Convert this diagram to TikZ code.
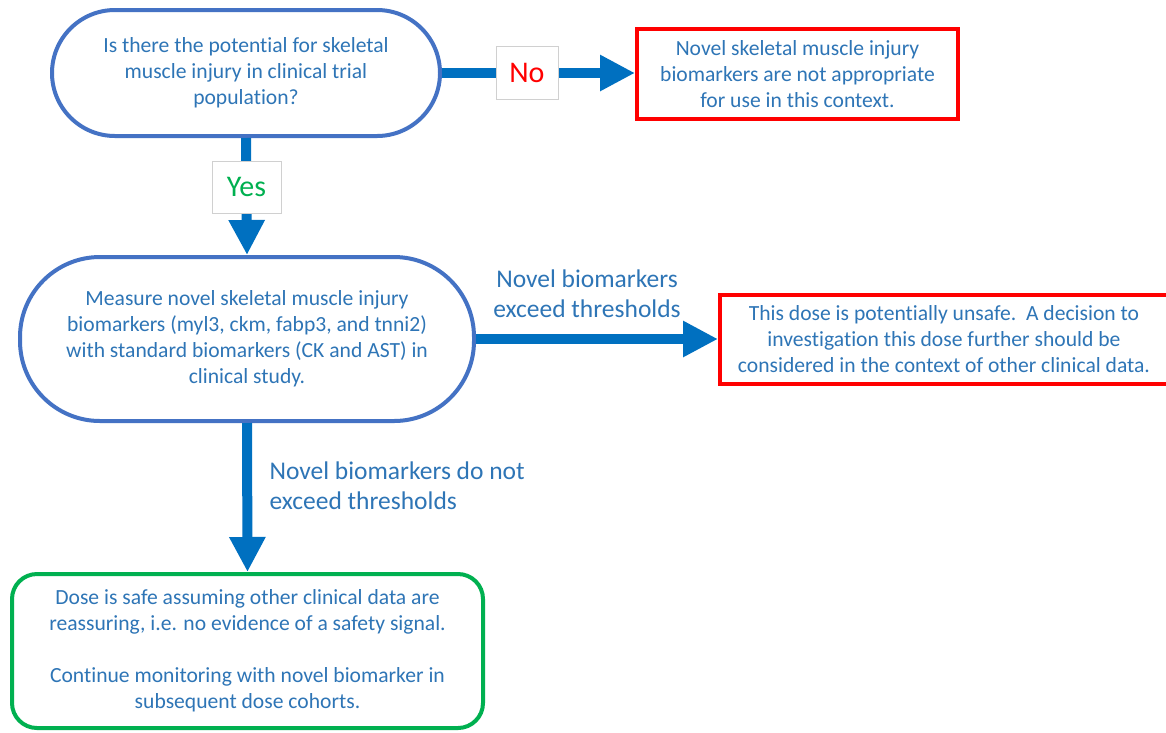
\documentclass[tikz,border=0pt]{standalone}
\usepackage{fontspec}
\setmainfont{Carlito}[Ligatures=NoCommon]
\usetikzlibrary{arrows.meta}
\definecolor{nodeblue}{HTML}{4472C4}
\definecolor{arrowblue}{HTML}{0070C0}
\definecolor{txtblue}{HTML}{2E75B6}
\definecolor{redb}{HTML}{FF0000}
\definecolor{greenb}{HTML}{00B050}
\definecolor{greentxt}{HTML}{00B050}
\definecolor{labgray}{HTML}{D0D0D0}
\begin{document}
\begin{tikzpicture}[x=1pt,y=-1pt,
  txt/.style={text=txtblue, font=\fontsize{21.6}{26}\selectfont, align=center},
  term/.style={txt, draw=nodeblue, line width=4pt, fill=white, rectangle},
  redbox/.style={txt, draw=redb, line width=4pt, rectangle, fill=white},
  greenbox/.style={txt, draw=greenb, line width=4pt, rectangle, fill=white, rounded corners=25pt},
  flow/.style={draw=arrowblue, line width=10pt, -{Triangle[width=34pt,length=35pt]}},
  lab/.style={draw=labgray, line width=0.8pt, fill=white, font=\fontsize{30}{32}\selectfont, inner sep=0pt},
  edgelab/.style={text=txtblue, font=\fontsize{25.5}{30}\selectfont}]
\useasboundingbox (0,0) rectangle (1166,732);
\fill[white] (0,0) rectangle (1166,732);

\node[term, minimum width=388pt, minimum height=126pt, rounded corners=63pt] (q) at (246,73)
  {Is there the potential for skeletal\\muscle injury in clinical trial\\population?};

\node[redbox, minimum width=321pt, minimum height=90pt] (r1) at (797.5,74)
  {Novel skeletal muscle injury\\biomarkers are not appropriate\\for use in this context.};

\node[term, minimum width=454pt, minimum height=164pt, rounded corners=80pt] (m) at (247,339)
  {Measure novel skeletal muscle injury\\biomarkers (myl3, ckm, fabp3, and tnni2)\\with standard biomarkers (CK and AST) in\\clinical study.};

\node[redbox, minimum width=448pt, minimum height=89pt] (r2) at (944,339.5)
  {This dose is potentially unsafe.\ \ A decision to\\investigation this dose further should be\\considered in the context of other clinical data.};

\node[greenbox, minimum width=471pt, minimum height=154pt] (g) at (247.5,651)
  {Dose is safe assuming other clinical data are\\reassuring, i.e. no evidence of a safety signal.\\[26pt]Continue monitoring with novel biomarker in\\subsequent dose cohorts.};

\draw[flow] (q.east) -- (q.east -| r1.west)
  node[lab, pos=0.44, minimum width=62pt, minimum height=53pt, text=redb] (no) {No};
\draw[flow] (q.south) -- (m.north)
  node[lab, pos=0.42, minimum width=69pt, minimum height=52pt, text=greentxt] (yes) {Yes};
\draw[flow] (m.east) -- (m.east -| r2.west);
\draw[flow] (m.south) -- (g.north);

\node[edgelab, align=center] (exc) at (587,294) {Novel biomarkers\\exceed thresholds};
\node[edgelab, align=left, anchor=west] (notexc) at (266,486) {Novel biomarkers do not\\exceed thresholds};
\end{tikzpicture}
\end{document}
